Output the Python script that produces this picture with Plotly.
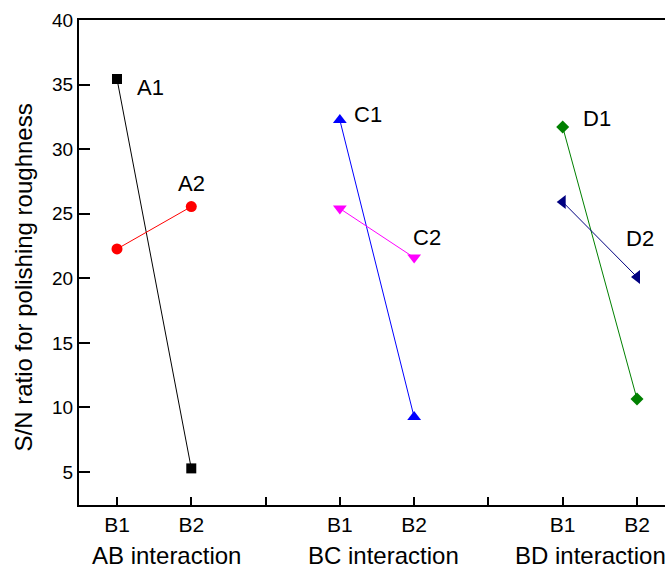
import plotly.graph_objects as go

# Data
x_positions = [1, 2, 3, 4, 5, 6, 7, 8]
tick_labels = ["B1", "B2", "", "B1", "B2", "", "B1", "B2"]
y_ticks = [5, 10, 15, 20, 25, 30, 35, 40]
group_titles = ["AB interaction", "BC interaction", "BD interaction"]
group_title_x = [1.666, 4.594, 7.38]
y_title = "S/N ratio for polishing roughness"

ab_x = [1, 2]
bc_x = [4, 5]
bd_x = [7, 8]

A1 = [35.43, 5.28]
A2 = [22.27, 25.55]
C1 = [32.25, 9.25]
C2 = [25.4, 21.6]
D1 = [31.71, 10.65]
D2 = [25.91, 20.1]

series = [
    ("A1", ab_x, A1, "#000000", "square", 10, 0, 33, -8),
    ("A2", ab_x, A2, "#FF0000", "circle", 11, 1, 0, 23),
    ("C1", bc_x, C1, "#0000FF", "triangle-up", 12, 0, 28, 6),
    ("C2", bc_x, C2, "#FF00FF", "triangle-down", 12, 1, 13, 20),
    ("D1", bd_x, D1, "#008000", "diamond", 10, 0, 34, 9),
    ("D2", bd_x, D2, "#000080", "triangle-left", 12, 1, 3, 39),
]

FONT = "Liberation Sans, Arial"

fig = go.Figure()
annotations = []
for name, xs, ys, color, sym, size, lab_idx, xs_shift, ys_shift in series:
    fig.add_trace(go.Scatter(
        x=xs, y=ys, mode="lines+markers", name=name,
        line=dict(color=color, width=1),
        marker=dict(symbol=sym, size=size, color=color),
        showlegend=False, cliponaxis=False,
    ))
    annotations.append(dict(
        x=xs[lab_idx], y=ys[lab_idx], xref="x", yref="y",
        text=name, showarrow=False, xshift=xs_shift, yshift=ys_shift,
        font=dict(family=FONT, size=22, color="#000000"),
    ))

for t, gx in zip(group_titles, group_title_x):
    annotations.append(dict(
        x=gx, y=-0.105, xref="x", yref="paper", text=t, showarrow=False,
        xanchor="center", yanchor="middle",
        font=dict(family=FONT, size=24, color="#000000"),
    ))

annotations.append(dict(
    x=-0.0939, y=0.469, xref="paper", yref="paper", text=y_title,
    showarrow=False, textangle=-90, xanchor="center", yanchor="middle",
    font=dict(family=FONT, size=24, color="#000000"),
))

fig.update_layout(
    width=665, height=572,
    margin=dict(l=79, r=0, t=20, b=67),
    paper_bgcolor="white", plot_bgcolor="white",
    font=dict(family=FONT, color="#000000"),
    annotations=annotations,
    xaxis=dict(
        range=[0.4885, 8.377], tickmode="array", tickvals=x_positions,
        ticktext=tick_labels, ticks="inside", ticklen=8, tickwidth=1.5,
        tickcolor="#000000", showline=True, linecolor="#000000", linewidth=2,
        mirror=True, showgrid=False, zeroline=False,
        tickfont=dict(size=21, color="#000000"),
    ),
    yaxis=dict(
        range=[2.445, 40], tickmode="array", tickvals=y_ticks,
        ticks="inside", ticklen=11, tickwidth=1.5, tickcolor="#000000",
        showline=True, linecolor="#000000", linewidth=2, mirror=False,
        showgrid=False, zeroline=False,
        tickfont=dict(size=19, color="#000000"),
    ),
)

fig.write_html("out.html")
